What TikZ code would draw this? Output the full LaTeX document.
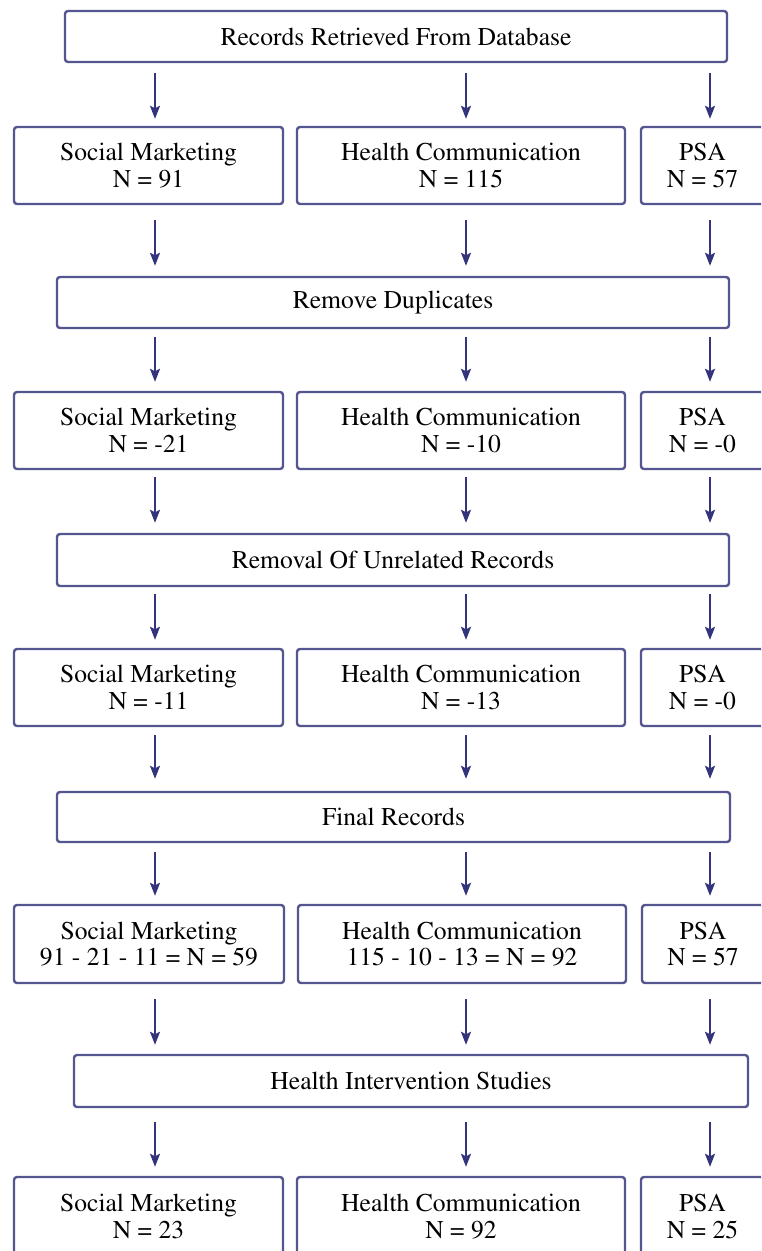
\documentclass[tikz,border=0pt]{standalone}
\usepackage[T1]{fontenc}
\usepackage{mathptmx}
\usetikzlibrary{arrows.meta}
\definecolor{boxc}{HTML}{55558F}
\definecolor{arrc}{HTML}{34347C}
\tikzset{
  box/.style={draw=boxc, line width=2.4pt, rounded corners=3pt, rectangle, inner sep=0pt,
    align=center, font=\rmfamily\fontsize{25.6}{26.5}\selectfont, text=black},
  arr/.style={draw=arrc, line width=2pt, -{Stealth[length=13pt,width=10pt,inset=2.5pt]}},
}
\begin{document}
\begin{tikzpicture}[x=1pt,y=-1pt]
\useasboundingbox (0,0) rectangle (761,1251);
\fill[white] (0,0) rectangle (761,1251);
\clip (0,0) rectangle (761,1251);
% column coordinates
\coordinate (c1) at (155,0);
\coordinate (c2) at (466,0);
\coordinate (c3) at (710,0);
% wide boxes
\node[box, minimum width=662pt, minimum height=51pt] (top) at (396,36.5) {Records Retrieved From Database};
\node[box, minimum width=672pt, minimum height=51pt] (rd) at (393,302.5) {Remove Duplicates};
\node[box, minimum width=672pt, minimum height=52pt] (ru) at (393,560) {Removal Of Unrelated Records};
\node[box, minimum width=673pt, minimum height=50pt] (fr) at (393.5,817) {Final Records};
\node[box, minimum width=674pt, minimum height=52pt] (his) at (411,1081) {Health Intervention Studies};
% row 1
\node[box, minimum width=269pt, minimum height=77pt] (sm1) at (148.5,165.5) {Social Marketing\\N = 91};
\node[box, minimum width=328pt, minimum height=77pt] (hc1) at (461,165.5) {Health Communication\\N = 115};
\node[box, minimum width=123pt, minimum height=77pt] (ps1) at (702.5,165.5) {PSA\\N = 57};
% row 2
\node[box, minimum width=269pt, minimum height=77pt] (sm2) at (148.5,430.5) {Social Marketing\\N = -21};
\node[box, minimum width=328pt, minimum height=77pt] (hc2) at (461,430.5) {Health Communication\\N = -10};
\node[box, minimum width=123pt, minimum height=77pt] (ps2) at (702.5,430.5) {PSA\\N = -0};
% row 3
\node[box, minimum width=269pt, minimum height=77pt] (sm3) at (148.5,687.5) {Social Marketing\\N = -11};
\node[box, minimum width=328pt, minimum height=77pt] (hc3) at (461,687.5) {Health Communication\\N = -13};
\node[box, minimum width=123pt, minimum height=77pt] (ps3) at (702.5,687.5) {PSA\\N = -0};
% row 4
\node[box, minimum width=270pt, minimum height=78pt] (sm4) at (149,944) {Social Marketing\\91 - 21 - 11 = N = 59};
\node[box, minimum width=328pt, minimum height=78pt] (hc4) at (462,944) {Health Communication\\115 - 10 - 13 = N = 92};
\node[box, minimum width=122pt, minimum height=78pt] (ps4) at (703,944) {PSA\\N = 57};
% row 5
\node[box, minimum width=269pt, minimum height=79pt] (sm5) at (148.5,1216.5) {Social Marketing\\N = 23};
\node[box, minimum width=328pt, minimum height=79pt] (hc5) at (461,1216.5) {Health Communication\\N = 92};
\node[box, minimum width=123pt, minimum height=79pt] (ps5) at (702.5,1216.5) {PSA\\N = 25};
% arrows
\foreach \a/\b/\s/\e in {top/sm1/10/7, sm1/rd/15/10, rd/sm2/8/9, sm2/ru/7/10, ru/sm3/7/8, sm3/fr/8/12, fr/sm4/9/8, sm4/his/15/9, his/sm5/14/9}{
  \draw[arr, shorten <=\s pt, shorten >=\e pt] (\a.south -| c1) -- (\b.north -| c1);
}
\foreach \a/\b/\s/\e in {top/hc1/10/7, hc1/rd/15/10, rd/hc2/8/9, hc2/ru/7/10, ru/hc3/7/8, hc3/fr/8/12, fr/hc4/9/8, hc4/his/15/9, his/hc5/14/9}{
  \draw[arr, shorten <=\s pt, shorten >=\e pt] (\a.south -| c2) -- (\b.north -| c2);
}
\foreach \a/\b/\s/\e in {top/ps1/10/7, ps1/rd/15/10, rd/ps2/8/9, ps2/ru/7/10, ru/ps3/7/8, ps3/fr/8/12, fr/ps4/9/8, ps4/his/15/9, his/ps5/14/9}{
  \draw[arr, shorten <=\s pt, shorten >=\e pt] (\a.south -| c3) -- (\b.north -| c3);
}
\end{tikzpicture}
\end{document}
